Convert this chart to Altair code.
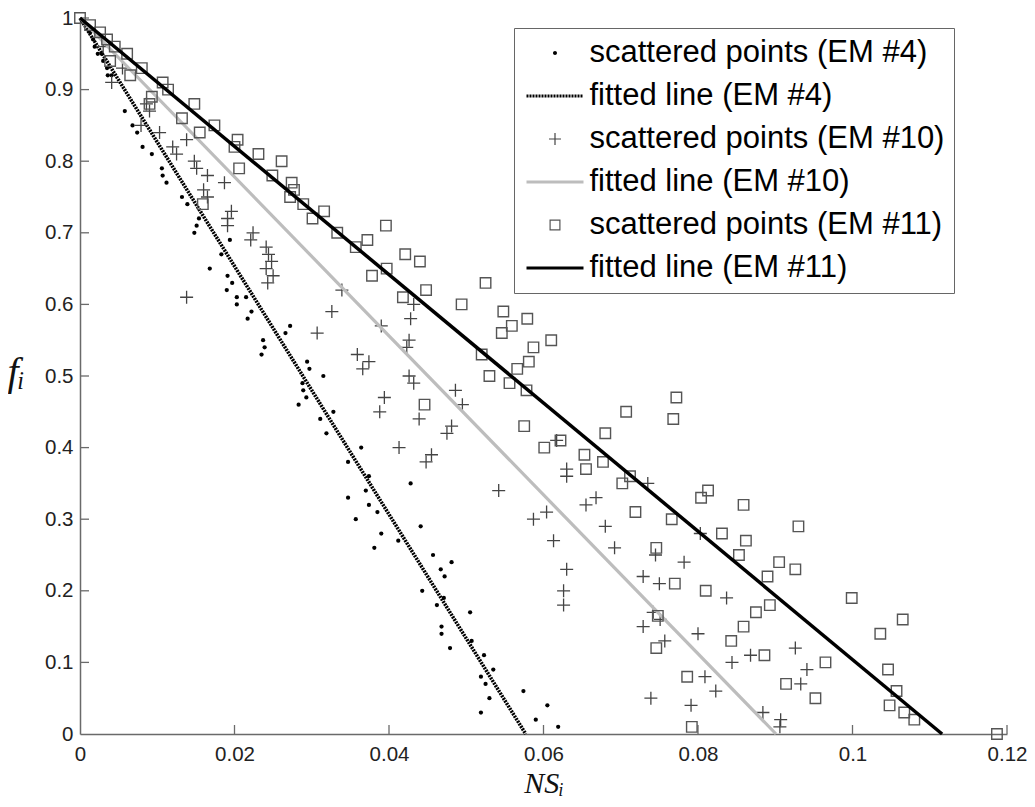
import altair as alt
import pandas as pd

LABELS = [
    "scattered points (EM #4)",
    "fitted line (EM #4)",
    "scattered points (EM #10)",
    "fitted line (EM #10)",
    "scattered points (EM #11)",
    "fitted line (EM #11)",
]

# ---- EM #4 scattered points ----
em4_x = [0.0009, 0.0013, 0.0017, 0.0019, 0.0023, 0.0028, 0.0030, 0.0035, 0.0036, 0.0041,
         0.0058, 0.0068, 0.0074, 0.0081, 0.0093, 0.0106, 0.0107, 0.0112, 0.0132, 0.0139,
         0.0148, 0.0151, 0.0154, 0.0194, 0.0183, 0.0168, 0.0191, 0.0190, 0.0203, 0.0215,
         0.0197, 0.0203, 0.0217, 0.0222, 0.0235, 0.0237, 0.0239, 0.0266, 0.0272, 0.0283,
         0.0289, 0.0293, 0.0294, 0.0297, 0.0288, 0.0315, 0.0311, 0.0319, 0.0328, 0.0347,
         0.0347, 0.0364, 0.0374, 0.0370, 0.0428, 0.0374, 0.0385, 0.0357, 0.0441, 0.0390,
         0.0381, 0.0412, 0.0457, 0.0481, 0.0467, 0.0472, 0.0443, 0.0471, 0.0462, 0.0468,
         0.0468, 0.0479, 0.0505, 0.0507, 0.0523, 0.0519, 0.0525, 0.0535, 0.0530, 0.0519,
         0.0574, 0.0590, 0.0605, 0.0619]
em4_y = [0.99, 0.98, 0.97, 0.96, 0.95, 0.95, 0.94, 0.93, 0.92, 0.92,
         0.87, 0.85, 0.84, 0.82, 0.81, 0.79, 0.78, 0.77, 0.75, 0.74,
         0.70, 0.71, 0.72, 0.69, 0.67, 0.65, 0.64, 0.62, 0.61, 0.61,
         0.63, 0.60, 0.58, 0.59, 0.53, 0.55, 0.54, 0.56, 0.57, 0.46,
         0.48, 0.47, 0.52, 0.51, 0.49, 0.50, 0.44, 0.42, 0.45, 0.38,
         0.33, 0.40, 0.36, 0.34, 0.35, 0.32, 0.31, 0.30, 0.29, 0.28,
         0.26, 0.27, 0.25, 0.24, 0.23, 0.22, 0.20, 0.19, 0.18, 0.15,
         0.14, 0.12, 0.17, 0.13, 0.11, 0.08, 0.07, 0.09, 0.05, 0.03,
         0.06, 0.02, 0.04, 0.01]

# ---- EM #10 scattered points ----
em10_x = [0.0030, 0.0041, 0.0055, 0.0086, 0.0090, 0.0079, 0.0103, 0.0120, 0.0125, 0.0138,
          0.0148, 0.0151, 0.0165, 0.0187, 0.0160, 0.0165, 0.0196, 0.0191, 0.0191, 0.0224,
          0.0221, 0.0241, 0.0244, 0.0248, 0.0241, 0.0250, 0.0243, 0.0339, 0.0138, 0.0326,
          0.0307, 0.0432, 0.0428, 0.0390, 0.0426, 0.0423, 0.0359, 0.0374, 0.0366, 0.0426,
          0.0432, 0.0486, 0.0495, 0.0394, 0.0388, 0.0439, 0.0481, 0.0475, 0.0413, 0.0455,
          0.0448, 0.0542, 0.0617, 0.0630, 0.0630, 0.0668, 0.0655, 0.0604, 0.0587, 0.0680,
          0.0735, 0.0613, 0.0692, 0.0630, 0.0626, 0.0626, 0.0745, 0.0729, 0.0750, 0.0742,
          0.0751, 0.0729, 0.0757, 0.0739, 0.0803, 0.0782, 0.0837, 0.0800, 0.0926, 0.0809,
          0.0823, 0.0791, 0.0844, 0.0868, 0.0941, 0.0933, 0.0884, 0.0907, 0.0906]
em10_y = [0.96, 0.91, 0.93, 0.88, 0.87, 0.85, 0.84, 0.82, 0.81, 0.83,
          0.80, 0.79, 0.78, 0.77, 0.76, 0.75, 0.73, 0.72, 0.71, 0.70,
          0.69, 0.68, 0.67, 0.66, 0.65, 0.64, 0.63, 0.62, 0.61, 0.59,
          0.56, 0.60, 0.58, 0.57, 0.55, 0.54, 0.53, 0.52, 0.51, 0.50,
          0.49, 0.48, 0.46, 0.47, 0.45, 0.44, 0.43, 0.42, 0.40, 0.39,
          0.38, 0.34, 0.41, 0.37, 0.36, 0.33, 0.32, 0.31, 0.30, 0.29,
          0.35, 0.27, 0.26, 0.23, 0.20, 0.18, 0.25, 0.22, 0.21, 0.17,
          0.16, 0.15, 0.13, 0.05, 0.28, 0.24, 0.19, 0.14, 0.12, 0.08,
          0.06, 0.04, 0.10, 0.11, 0.09, 0.07, 0.03, 0.02, 0.01]

# ---- EM #11 scattered points ----
em11_x = [0.0000, 0.0013, 0.0026, 0.0035, 0.0045, 0.0039, 0.0061, 0.0065, 0.0080, 0.0093,
          0.0090, 0.0107, 0.0114, 0.0132, 0.0148, 0.0155, 0.0174, 0.0200, 0.0204, 0.0206,
          0.0231, 0.0261, 0.0249, 0.0274, 0.0277, 0.0272, 0.0289, 0.0301, 0.0316, 0.0333,
          0.0159, 0.0357, 0.0372, 0.0396, 0.0378, 0.0397, 0.0421, 0.0440, 0.0525, 0.0448,
          0.0418, 0.0494, 0.0548, 0.0579, 0.0559, 0.0546, 0.0610, 0.0587, 0.0520, 0.0581,
          0.0566, 0.0530, 0.0556, 0.0578, 0.0772, 0.0768, 0.0446, 0.0707, 0.0575, 0.0680,
          0.0622, 0.0601, 0.0653, 0.0677, 0.0655, 0.0702, 0.0712, 0.0719, 0.0766, 0.0746,
          0.0770, 0.0748, 0.0746, 0.0813, 0.0804, 0.0859, 0.0930, 0.0831, 0.0862, 0.0853,
          0.0905, 0.0890, 0.0926, 0.0810, 0.0999, 0.0893, 0.0875, 0.0859, 0.1065, 0.1036,
          0.0843, 0.0886, 0.0965, 0.0786, 0.0914, 0.0952, 0.1046, 0.1057, 0.1048, 0.1067,
          0.1080, 0.0792, 0.1187]
em11_y = [1.00, 0.99, 0.98, 0.97, 0.96, 0.94, 0.95, 0.92, 0.93, 0.89,
          0.88, 0.91, 0.90, 0.86, 0.88, 0.84, 0.85, 0.82, 0.83, 0.79,
          0.81, 0.80, 0.78, 0.77, 0.76, 0.75, 0.74, 0.72, 0.73, 0.70,
          0.74, 0.68, 0.69, 0.71, 0.64, 0.65, 0.67, 0.66, 0.63, 0.62,
          0.61, 0.60, 0.59, 0.58, 0.57, 0.56, 0.55, 0.54, 0.53, 0.52,
          0.51, 0.50, 0.49, 0.48, 0.47, 0.44, 0.46, 0.45, 0.43, 0.42,
          0.41, 0.40, 0.39, 0.38, 0.37, 0.35, 0.36, 0.31, 0.30, 0.26,
          0.21, 0.165, 0.12, 0.34, 0.33, 0.32, 0.29, 0.28, 0.27, 0.25,
          0.24, 0.22, 0.23, 0.20, 0.19, 0.18, 0.17, 0.15, 0.16, 0.14,
          0.13, 0.11, 0.10, 0.08, 0.07, 0.05, 0.09, 0.06, 0.04, 0.03,
          0.02, 0.01, 0.00]

# ---- fitted lines (end points) ----
fit4_x, fit4_y = [0.0, 0.0577], [1.0, 0.0]
fit10_x, fit10_y = [0.0, 0.0901], [1.0, 0.0]
fit11_x, fit11_y = [0.0, 0.1116], [1.0, 0.0]

X_TICKS = [0, 0.02, 0.04, 0.06, 0.08, 0.1, 0.12]
Y_TICKS = [0, 0.1, 0.2, 0.3, 0.4, 0.5, 0.6, 0.7, 0.8, 0.9, 1]

W, H = 927, 716
TICK_LEN = 9
SANS = "Liberation Sans"
SERIF = "Liberation Serif, DejaVu Serif"

df4 = pd.DataFrame({"x": em4_x, "y": em4_y})
df10 = pd.DataFrame({"x": em10_x, "y": em10_y})
df11 = pd.DataFrame({"x": em11_x, "y": em11_y})
dl4 = pd.DataFrame({"x": fit4_x, "y": fit4_y})
dl10 = pd.DataFrame({"x": fit10_x, "y": fit10_y})
dl11 = pd.DataFrame({"x": fit11_x, "y": fit11_y})
dleg = pd.DataFrame({"label": LABELS})
dxt = pd.DataFrame({"x": X_TICKS[1:]})
dyt = pd.DataFrame({"y": Y_TICKS[1:]})

xs = alt.Scale(domain=[0, 0.12], nice=False, zero=False)
ys = alt.Scale(domain=[0, 1], nice=False, zero=False)

bottom_axis = alt.Axis(values=X_TICKS, format=".3~g", orient="bottom", ticks=False, tickSize=0,
                       grid=False, domainColor="#6a6a6a", domainWidth=1.5,
                       labelFont=SANS, labelFontSize=20.5, labelColor="#222", labelPadding=10,
                       labelFlush=False, labelOverlap=False,
                       title="NSᵢ", titleFont=SERIF, titleFontStyle="italic",
                       titleFontWeight="normal", titleFontSize=30, titleColor="#111",
                       titleY=58, titleBaseline="alphabetic")
left_axis = alt.Axis(values=Y_TICKS, format=".3~g", orient="left", ticks=False, tickSize=0,
                     grid=False, domainColor="#6a6a6a", domainWidth=1.5,
                     labelFont=SANS, labelFontSize=20.5, labelColor="#222", labelPadding=7,
                     labelFlush=False, labelOverlap=False,
                     title="fᵢ", titleFont=SERIF, titleFontStyle="italic",
                     titleFontWeight="normal", titleFontSize=40, titleColor="#111",
                     titleAngle=0, titleX=-73, titleY=354, titleAlign="left",
                     titleBaseline="middle")

X = alt.X("x:Q", scale=xs, axis=bottom_axis)
Y = alt.Y("y:Q", scale=ys, axis=left_axis)

# ---- legend symbols (filled paths, unit = 28.5 px) ----
U = 28.5


def rect(x0, y0, x1, y1):
    return f"M{x0:.4f},{y0:.4f}L{x1:.4f},{y0:.4f}L{x1:.4f},{y1:.4f}L{x0:.4f},{y1:.4f}Z"


def dotted_line(h, seg, gap):
    parts, x = [], -1.0
    while x < 1.0 - 1e-9:
        x2 = min(x + seg, 1.0)
        parts.append(rect(x, -h, x2, h))
        x += seg + gap
    return "".join(parts)


lh = 1.6 / U
r = 2.0 / U
p, pt = 6.0 / U, 0.6 / U
so, si = 5.5 / U, 4.3 / U
dot_path = f"M{r:.4f},0A{r:.4f},{r:.4f},0,1,1,{-r:.4f},0A{r:.4f},{r:.4f},0,1,1,{r:.4f},0Z"
plus_path = rect(-p, -pt, p, pt) + rect(-pt, -p, pt, p)
square_path = (rect(-so, -so, so, so)
               + f"M{-si:.4f},{-si:.4f}L{-si:.4f},{si:.4f}L{si:.4f},{si:.4f}L{si:.4f},{-si:.4f}Z")
solid_path = rect(-1, -lh, 1, lh)
dotted_path = dotted_line(lh, 2.0 / U, 1.0 / U)

legend = alt.Legend(title=None, orient="none", legendX=434, legendY=10, direction="vertical",
                    labelFont=SANS, labelFontSize=31, labelColor="black", labelLimit=0,
                    symbolSize=U * U * 4, symbolStrokeWidth=0, symbolOpacity=1,
                    clipHeight=32, rowPadding=11, padding=9, labelOffset=6, symbolOffset=3.5,
                    strokeColor="#666", fillColor="white")

legend_layer = alt.Chart(dleg).mark_point(filled=True, opacity=0, size=U * U * 4, strokeWidth=0).encode(
    shape=alt.Shape("label:N", sort=None, legend=legend,
                    scale=alt.Scale(domain=LABELS,
                                    range=[dot_path, dotted_path, plus_path, solid_path,
                                           square_path, solid_path])),
    color=alt.Color("label:N", sort=None, legend=legend,
                    scale=alt.Scale(domain=LABELS,
                                    range=["#000000", "#000000", "#444444", "#bdbdbd",
                                           "#555555", "#000000"])),
)

dots = alt.Chart(df4).mark_circle(size=18, color="black", opacity=1).encode(x=X, y=Y)
# inner tick marks on the bottom and left axes
xticks = alt.Chart(dxt).mark_rule(color="#6a6a6a", strokeWidth=1.3).encode(
    x=X, y=alt.value(H), y2=alt.value(H - TICK_LEN),
)
yticks = alt.Chart(dyt).mark_rule(color="#6a6a6a", strokeWidth=1.3).encode(
    y=Y, x=alt.value(0), x2=alt.value(TICK_LEN),
)
line4 = alt.Chart(dl4).mark_line(color="black", strokeWidth=3.6, strokeDash=[2, 1]).encode(x=X, y=Y)
plus = alt.Chart(df10).mark_point(shape="M-1,0L1,0M0,-1L0,1", filled=False, size=169,
                                  color="#444444", strokeWidth=1.3, opacity=1).encode(x=X, y=Y)
line10 = alt.Chart(dl10).mark_line(color="#bdbdbd", strokeWidth=3.2).encode(x=X, y=Y)
squares = alt.Chart(df11).mark_point(shape="square", filled=False, size=110,
                                     color="#555555", strokeWidth=1.4, opacity=1).encode(x=X, y=Y)
line11 = alt.Chart(dl11).mark_line(color="black", strokeWidth=3.5).encode(x=X, y=Y)

chart = alt.layer(legend_layer, dots, xticks, yticks, line4, plus, line10, squares, line11).properties(
    width=W, height=H,
    background="white",
    autosize=alt.AutoSizeParams(type="none"),
    padding={"left": 72, "top": 10, "right": 20, "bottom": 63},
).configure_view(stroke=None)

chart.save("out.html", embed_options={"renderer": "svg", "actions": False})
